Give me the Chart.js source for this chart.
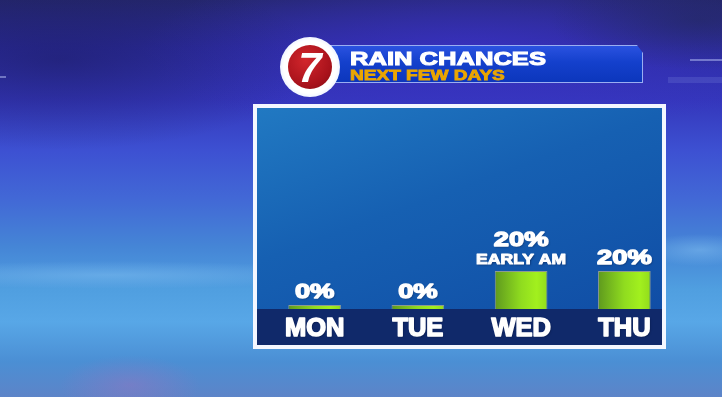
<!DOCTYPE html>
<html>
<head>
<meta charset="utf-8">
<script src="https://cdn.jsdelivr.net/npm/chart.js@4.4.1/dist/chart.umd.min.js"></script>
<style>
html, body { margin: 0; padding: 0; }
body {
    width: 722px; height: 397px; overflow: hidden; position: relative;
    font-family: "Liberation Sans", Arial, sans-serif;
    background:
        radial-gradient(ellipse 260px 90px at 60px 60px, rgba(20,20,70,0.4), rgba(20,20,70,0)),
        radial-gradient(ellipse 150px 50px at 700px 20px, rgba(35,40,95,0.6), rgba(35,40,95,0)),
        radial-gradient(ellipse 330px 90px at 470px 50px, rgba(60,50,200,0.7), rgba(60,50,200,0)),
        radial-gradient(ellipse 70px 30px at 130px 385px, rgba(170,110,190,0.35), rgba(170,110,190,0)),
        radial-gradient(ellipse 240px 14px at 110px 275px, rgba(140,200,245,0.4), rgba(140,200,245,0)),
        radial-gradient(ellipse 60px 16px at 700px 250px, rgba(140,200,245,0.45), rgba(140,200,245,0)),
        linear-gradient(to bottom, #25276f 0%, #2c2ca0 12%, #3436bb 25%, #3d51d2 38%, #4268d6 50%, #4585d6 62%, #509fe0 73%, #58a7e7 81%, #4b8fd4 91%, #5d84c8 100%);
}
.streak { position: absolute; height: 2px; background: rgba(200,210,255,0.45); }
#panel {
    position: absolute; left: 253px; top: 104px; width: 405px; height: 237px;
    border: 4px solid #f4f7ff;
    background: linear-gradient(160deg, #2179c2 0%, #1660b2 40%, #0f4aa3 100%);
}
#band {
    position: absolute; left: 0; right: 0; bottom: 0; height: 36px;
    background: #10296a;
}
#chart { position: absolute; left: 0; top: 0; }
#banner {
    position: absolute; left: 328px; top: 45px; width: 313px; height: 36px;
    border: 1px solid #9aaef2;
    background: linear-gradient(to bottom, #2a52e0 0%, #1440cc 45%, #0c36bc 100%);
    clip-path: polygon(0 0, calc(100% - 6px) 0, 100% 8px, 100% 100%, 0 100%);
}
.title {
    position: absolute; white-space: nowrap; font-weight: bold;
    transform-origin: 0 0; line-height: 1;
}
#t1 { left: 350px; top: 50px; font-size: 18px; color: #ffffff; transform: scaleX(1.42); -webkit-text-stroke: 1px #ffffff; }
#t2 { left: 350px; top: 68px; font-size: 14px; color: #eba600; transform: scaleX(1.36); -webkit-text-stroke: 0.8px #eba600; }
#logo {
    position: absolute; left: 280px; top: 37px; width: 60px; height: 60px; border-radius: 50%;
    background: radial-gradient(circle, #ffffff 62%, #e2ebff 78%, #b4c8f2 100%);
}
#disc {
    position: absolute; left: 8px; top: 8px; width: 44px; height: 44px; border-radius: 50%;
    background: radial-gradient(circle at 40% 35%, #d2262c 0%, #a8121b 65%, #7e0a12 100%);
    color: #ffffff; font: italic bold 42px "Liberation Sans", Arial, sans-serif;
    text-align: center; line-height: 46px;
}
</style>
</head>
<body>
<div class="streak" style="left:690px; top:59px; width:32px;"></div>
<div class="streak" style="left:668px; top:77px; width:54px; height:6px; background:rgba(120,130,220,0.25);"></div>
<div class="streak" style="left:0; top:76px; width:6px;"></div>
<div id="panel"><div id="band"></div></div>
<canvas id="chart" width="722" height="397"></canvas>
<div id="banner"></div>
<div class="title" id="t1">RAIN CHANCES</div>
<div class="title" id="t2">NEXT FEW DAYS</div>
<div id="logo"><div id="disc">7</div></div>
<script>
// Chart data
var days = ['MON', 'TUE', 'WED', 'THU'];
var rainChance = [0, 0, 20, 20];
var notes = ['', '', 'EARLY AM', ''];

var fontName = '"Liberation Sans", Arial, sans-serif';

// Draw heavy text stretched sideways, like the broadcast font
function drawWide(ctx, text, x, y, size, sx, fill, weight) {
    ctx.save();
    ctx.translate(x, y);
    ctx.scale(sx, 1);
    ctx.font = 'bold ' + size + 'px ' + fontName;
    ctx.fillStyle = fill;
    ctx.fillText(text, 0, 0);
    ctx.shadowColor = 'transparent';
    ctx.strokeStyle = fill;
    ctx.lineWidth = weight;
    ctx.lineJoin = 'round';
    ctx.strokeText(text, 0, 0);
    ctx.restore();
}

// Percent labels above bars and day names in the bottom band
var labelPlugin = {
    id: 'rainLabels',
    afterDatasetsDraw: function(chart) {
        var ctx = chart.ctx;
        var meta = chart.getDatasetMeta(0);
        var bottom = chart.chartArea.bottom;
        ctx.save();
        ctx.textAlign = 'center';
        ctx.textBaseline = 'alphabetic';
        ctx.shadowColor = 'rgba(0,10,40,0.55)';
        ctx.shadowBlur = 2;
        ctx.shadowOffsetX = 1;
        ctx.shadowOffsetY = 1;
        meta.data.forEach(function(bar, i) {
            var y = bar.y - 7;
            if (notes[i]) {
                drawWide(ctx, notes[i], bar.x, y, 15, 1.17, '#ffffff', 1.0);
                y -= 18;
            }
            drawWide(ctx, rainChance[i] + '%', bar.x, y, 21, 1.3, '#ffffff', 1.4);

            var g = ctx.createLinearGradient(0, bottom + 8, 0, bottom + 27);
            g.addColorStop(0, '#ffffff');
            g.addColorStop(0.45, '#f4f4f4');
            g.addColorStop(1, '#b4b4b4');
            drawWide(ctx, days[i], bar.x, bottom + 27, 26, 0.98, g, 1.6);
        });
        ctx.restore();
    }
};

function barFill(c) {
    var chart = c.chart;
    if (!chart.chartArea || !chart.scales.x) {
        return '#94e01e';
    }
    var x = chart.scales.x.getPixelForValue(c.dataIndex);
    var g = chart.ctx.createLinearGradient(x - 26, 0, x + 26, 0);
    g.addColorStop(0, '#5f9a1e');
    g.addColorStop(0.5, '#90dc1f');
    g.addColorStop(0.8, '#a2f01e');
    g.addColorStop(1, '#92dc1c');
    return g;
}

var rainChart = new Chart(document.getElementById('chart'), {
    type: 'bar',
    data: {
        labels: days,
        datasets: [{
            data: rainChance,
            backgroundColor: barFill,
            borderColor: '#8c9a92',
            borderWidth: 1,
            minBarLength: 4,
            barPercentage: 0.51,
            categoryPercentage: 1.0
        }]
    },
    options: {
        responsive: false,
        devicePixelRatio: 1,
        animation: false,
        layout: { padding: { left: 263, right: 46, top: 119, bottom: 88 } },
        scales: {
            x: { display: false },
            y: { display: false, min: 0, max: 100 }
        },
        plugins: {
            legend: { display: false },
            tooltip: { enabled: false }
        }
    },
    plugins: [labelPlugin]
});
</script>
</body>
</html>
